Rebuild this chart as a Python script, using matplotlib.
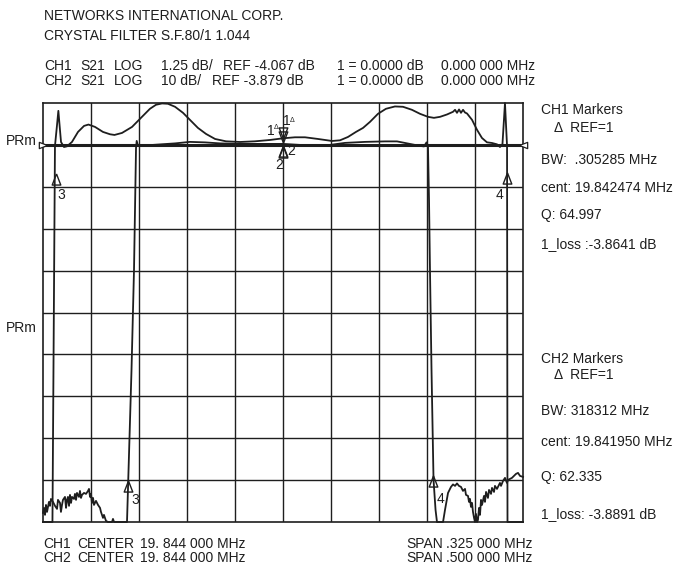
import numpy as np
import matplotlib
matplotlib.use("Agg")
import matplotlib.pyplot as plt
from matplotlib import font_manager as fm

# ---------------- data ----------------
CENTER_MHZ = 19.844
CH1_SPAN_KHZ = 325.0
CH2_SPAN_KHZ = 500.0
CH1_SCALE_DB = 1.25
CH1_REF_DB = -4.067
CH2_SCALE_DB = 10.0
CH2_REF_DB = -3.879
REF_POS_DIV = 9
N_DIV = 10

ch1_off_khz = [-162.5, -156.1, -154.4, -153.0, -152.1, -151.3, -150.3, -148.3, -146.3, -142.9,
               -138.8, -134.7, -131.7, -127.3, -121.9, -117.1, -114.1, -109.0, -102.2, -95.5,
               -90.1, -86.0, -81.9, -77.9, -73.1, -67.7, -63.0, -57.6, -52.1, -46.0,
               -38.6, -29.1, -19.0, -8.8, 0.0, 8.1, 14.9, 23.7, 33.2, 38.6,
               44.0, 49.4, 54.2, 58.9, 64.3, 69.7, 75.8, 81.25, 87.3, 92.8,
               98.2, 102.2, 106.3, 111.0, 115.1, 116.5, 117.8, 119.2, 120.5, 121.9,
               123.2, 124.6, 128.0, 131.4, 134.7, 138.1, 141.5, 144.9, 146.9, 148.6,
               149.6, 150.3, 151.0, 151.7, 152.0, 162.5]
ch1_db = [-15.4, -15.4, -4.10, -3.47, -3.05, -3.47, -3.98, -4.13, -4.11, -3.98,
          -3.68, -3.50, -3.46, -3.53, -3.68, -3.75, -3.77, -3.71, -3.53, -3.23,
          -2.99, -2.87, -2.83, -2.84, -2.93, -3.11, -3.32, -3.56, -3.74, -3.89,
          -3.96, -3.98, -3.96, -3.92, -3.87, -3.84, -3.84, -3.89, -3.95, -3.93,
          -3.83, -3.68, -3.56, -3.38, -3.14, -2.99, -2.92, -2.93, -3.02, -3.14,
          -3.23, -3.26, -3.23, -3.16, -3.08, -3.02, -3.11, -3.01, -3.11, -3.02,
          -3.10, -3.13, -3.32, -3.62, -3.86, -3.99, -4.01, -4.05, -4.13, -4.04,
          -3.32, -2.80, -3.47, -4.10, -15.4, -15.4]

ch2_off_khz = [-250.0, -249.0, -247.9, -246.9, -245.8, -244.8, -243.8, -242.7, -241.7, -239.6,
               -237.5, -235.4, -234.4, -232.3, -231.3, -230.2, -229.2, -227.1, -226.0, -225.0,
               -224.0, -222.9, -221.9, -220.8, -219.8, -217.7, -216.7, -215.6, -214.6, -212.5,
               -211.5, -210.4, -209.4, -207.3, -205.2, -203.1, -202.1, -201.0, -200.0, -199.0,
               -197.9, -196.9, -194.8, -192.7, -190.6, -189.6, -187.5, -186.5, -184.4, -182.3,
               -178.1, -177.1, -176.0, -162.5, -157.8, -155.2, -153.1, -152.4, -151.0, -143.75,
               -128.1, -112.5, -96.9, -81.25, -65.6, -44.8, -24.0, 0.0, 17.7, 33.3,
               49.0, 64.6, 85.4, 106.3, 118.75, 132.3, 142.7, 146.9, 149.5, 151.0,
               152.1, 153.1, 154.7, 156.8, 158.9, 160.4, 166.7, 168.75, 171.9, 175.0,
               177.1, 179.2, 181.25, 183.3, 185.4, 187.5, 189.6, 190.6, 192.7, 193.75,
               194.8, 195.8, 196.9, 197.9, 199.0, 200.0, 201.0, 202.1, 203.1, 204.2,
               205.2, 206.25, 207.3, 209.4, 210.4, 211.5, 212.5, 213.5, 214.6, 216.7,
               217.7, 219.8, 220.8, 222.9, 225.0, 226.0, 227.1, 229.2, 231.25, 233.3,
               234.4, 236.5, 238.5, 240.6, 242.7, 244.8, 246.9, 250.0]
ch2_db = [-91.70, -90.51, -92.18, -89.80, -91.47, -90.27, -89.08, -90.03, -88.37, -89.08,
          -90.03, -90.75, -88.60, -89.32, -91.47, -89.80, -88.60, -87.89, -90.51, -88.60,
          -87.89, -90.03, -87.41, -89.32, -87.89, -88.37, -87.17, -88.60, -86.94, -87.89,
          -86.46, -88.13, -87.41, -86.94, -87.17, -86.46, -85.98, -87.89, -87.17, -89.32,
          -88.13, -89.80, -88.84, -89.80, -90.51, -91.47, -92.90, -92.18, -93.61, -94.0,
          -94.0, -93.14, -94.0, -94.0, -57.58, -33.71, -4.60, -2.92, -4.12, -4.00,
          -3.76, -3.52, -3.16, -3.28, -3.52, -3.64, -3.64, -3.64, -3.88, -4.00,
          -3.88, -3.40, -3.16, -3.04, -3.04, -3.64, -4.12, -4.24, -3.28, -4.12,
          -17.01, -33.71, -57.58, -83.83, -90.99, -94.0, -94.0, -90.99, -86.94, -85.50,
          -84.91, -85.26, -84.67, -85.26, -85.50, -86.46, -85.98, -87.41, -87.65, -89.08,
          -88.37, -90.27, -89.32, -91.47, -92.90, -94.0, -91.94, -94.0, -93.38, -90.51,
          -92.18, -88.60, -89.80, -87.65, -89.08, -86.70, -87.41, -88.13, -86.22, -87.17,
          -85.74, -86.70, -85.26, -85.98, -85.02, -84.55, -85.26, -84.07, -83.35, -84.55,
          -83.83, -83.59, -83.35, -82.88, -82.40, -82.16, -82.88, -83.12]

# markers: (offset kHz, dB)
ch1_mk3 = (-154.0, -5.08)
ch1_mk4 = (151.5, -5.05)
ch1_mk1 = (0.0, -3.71)
ch1_mk2 = (0.0, -4.25)
ch2_mk3 = (-161.1, -85.26)
ch2_mk4 = (156.6, -84.07)
ch2_mk1 = (0.0, -1.97)
ch2_mk2 = (0.0, -5.55)

header_lines = ["NETWORKS INTERNATIONAL CORP.", "CRYSTAL FILTER S.F.80/1 1.044"]
ch1_info = ["CH1", "S21", "LOG", "1.25 dB/", "REF -4.067 dB", "1 = 0.0000 dB", "0.000 000 MHz"]
ch2_info = ["CH2", "S21", "LOG", "10 dB/", "REF -3.879 dB", "1 = 0.0000 dB", "0.000 000 MHz"]
footer1 = ["CH1", "CENTER", "19. 844 000 MHz", "SPAN", ".325 000 MHz"]
footer2 = ["CH2", "CENTER", "19. 844 000 MHz", "SPAN", ".500 000 MHz"]
ch1_panel = ["CH1 Markers", "\u0394  REF=1", "BW:  .305285 MHz", "cent: 19.842474 MHz",
             "Q: 64.997", "1_loss :-3.8641 dB"]
ch2_panel = ["CH2 Markers", "\u0394  REF=1", "BW: 318312 MHz", "cent: 19.841950 MHz",
             "Q: 62.335", "1_loss: -3.8891 dB"]

# ---------------- style ----------------
names = {f.name for f in fm.fontManager.ttflist}
if "Liberation Sans Narrow" in names:
    FAM = ["Liberation Sans Narrow", "DejaVu Sans"]
    FS = 11.5
else:
    FAM = ["Liberation Sans", "DejaVu Sans"]
    FS = 10.0
plt.rcParams["font.family"] = FAM

W, H = 678, 567
DPI = 100
INK = "#1e1e1e"
fig = plt.figure(figsize=(W / DPI, H / DPI), dpi=DPI)
fig.patch.set_facecolor("white")


def ftext(x, y, s, ha="left", size=FS, **kw):
    fig.text(x / W, 1 - y / H, s, ha=ha, va="baseline", fontsize=size, color=INK, **kw)


L, R, T, B = 43, 523, 103, 522
rect = [L / W, 1 - B / H, (R - L) / W, (B - T) / H]

ax1 = fig.add_axes(rect)
ax2 = fig.add_axes(rect)
ax2.patch.set_alpha(0)

ch1_bot = CH1_REF_DB - REF_POS_DIV * CH1_SCALE_DB
ch1_top = ch1_bot + N_DIV * CH1_SCALE_DB
ch2_bot = CH2_REF_DB - REF_POS_DIV * CH2_SCALE_DB
ch2_top = ch2_bot + N_DIV * CH2_SCALE_DB

ax1.set_xlim(-CH1_SPAN_KHZ / 2, CH1_SPAN_KHZ / 2)
ax1.set_ylim(ch1_bot, ch1_top)
ax2.set_xlim(-CH2_SPAN_KHZ / 2, CH2_SPAN_KHZ / 2)
ax2.set_ylim(ch2_bot, ch2_top)

for ax in (ax1, ax2):
    ax.set_xticks([])
    ax.set_yticks([])
for sp in ax2.spines.values():
    sp.set_visible(False)
for sp in ax1.spines.values():
    sp.set_linewidth(1.2)
    sp.set_color(INK)

# grid (CH1 divisions)
for i in range(1, N_DIV):
    xv = -CH1_SPAN_KHZ / 2 + i * CH1_SPAN_KHZ / N_DIV
    ax1.axvline(xv, color=INK, lw=1.0, zorder=1)
    yv = ch1_bot + i * CH1_SCALE_DB
    ax1.axhline(yv, color=INK, lw=2.2 if i == REF_POS_DIV else 1.0, zorder=1)

# traces (screen clipped)
c1 = np.clip(np.array(ch1_db), ch1_bot, ch1_top)
c2 = np.clip(np.array(ch2_db), ch2_bot, ch2_top)
ax1.plot(ch1_off_khz, c1, color=INK, lw=1.3, clip_on=False, zorder=3, solid_joinstyle="round")
ax2.plot(ch2_off_khz, c2, color=INK, lw=1.3, clip_on=False, zorder=3, solid_joinstyle="round")

up = [(0, 1.1), (-0.85, -1.1), (0.85, -1.1), (0, 1.1)]
dn = [(0, -1.1), (-0.85, 1.1), (0.85, 1.1), (0, -1.1)]


def mk(ax, pt, verts, label=None, dx=0, dy=0, ha="left", size=FS):
    ax.plot([pt[0]], [pt[1]], marker=verts, ms=8.0, mfc="none", mec=INK, mew=1.0,
            ls="none", clip_on=False, zorder=4)
    if label:
        ax.annotate(label, pt, xytext=(dx, dy), textcoords="offset pixels",
                    ha=ha, va="center", fontsize=size, color=INK, annotation_clip=False)


mk(ax1, ch1_mk3, up, "3", 2, -16, "left")
mk(ax1, ch1_mk4, up, "4", -3, -17, "right")
mk(ax2, ch2_mk3, up, "3", 3, -14, "left")
mk(ax2, ch2_mk4, up, "4", 3, -18, "left")
mk(ax1, ch1_mk1, dn, "1", -12, 2, "center")
mk(ax2, ch2_mk1, dn, "1", 4, 16, "center")
mk(ax1, ch1_mk2, up, "2", 8, 0, "center")
mk(ax2, ch2_mk2, up, "2", -4, -13, "center")
ax1.annotate("\u0394", ch1_mk1, xytext=(-6.5, 5), textcoords="offset pixels",
             ha="center", va="center", fontsize=5, color=INK, annotation_clip=False)
ax2.annotate("\u0394", ch2_mk1, xytext=(9.5, 16), textcoords="offset pixels",
             ha="center", va="center", fontsize=5, color=INK, annotation_clip=False)

# reference position indicators
ax1.plot([ax1.get_xlim()[0]], [CH1_REF_DB], marker=[(1, 0), (-1, 0.75), (-1, -0.75), (1, 0)],
         ms=6, mfc="white", mec=INK, mew=0.9, clip_on=False, zorder=5,
         transform=ax1.transData)
ax1.plot([ax1.get_xlim()[1]], [CH1_REF_DB], marker=[(-1, 0), (1, 0.75), (1, -0.75), (-1, 0)],
         ms=6, mfc="white", mec=INK, mew=0.9, clip_on=False, zorder=5)
ftext(37, 145, "PRm", ha="right")
ftext(37, 332, "PRm", ha="right")

# header
ftext(44, 20.5, header_lines[0])
ftext(44, 39.5, header_lines[1])
xs1 = [44, 80, 114, 161, 223, 337, 441]
xs2 = [44, 80, 114, 161, 212, 337, 441]
for x, s in zip(xs1, ch1_info):
    ftext(x, 70, s)
for x, s in zip(xs2, ch2_info):
    ftext(x, 85, s)

# footer
xf = [43, 77, 140, 406.5, 445.5]
for x, s in zip(xf, footer1):
    ftext(x, 548.5, s)
for x, s in zip(xf, footer2):
    ftext(x, 562.5, s)

# marker panels
yp1 = [114, 132, 164, 192, 219, 248]
yp2 = [363, 379, 415, 446, 481, 518]
for y, s in zip(yp1, ch1_panel):
    ftext(541 if not s.startswith("\u0394") else 554, y, s)
for y, s in zip(yp2, ch2_panel):
    ftext(541 if not s.startswith("\u0394") else 554, y, s)

fig.savefig("out.png", dpi=DPI, facecolor="white")
